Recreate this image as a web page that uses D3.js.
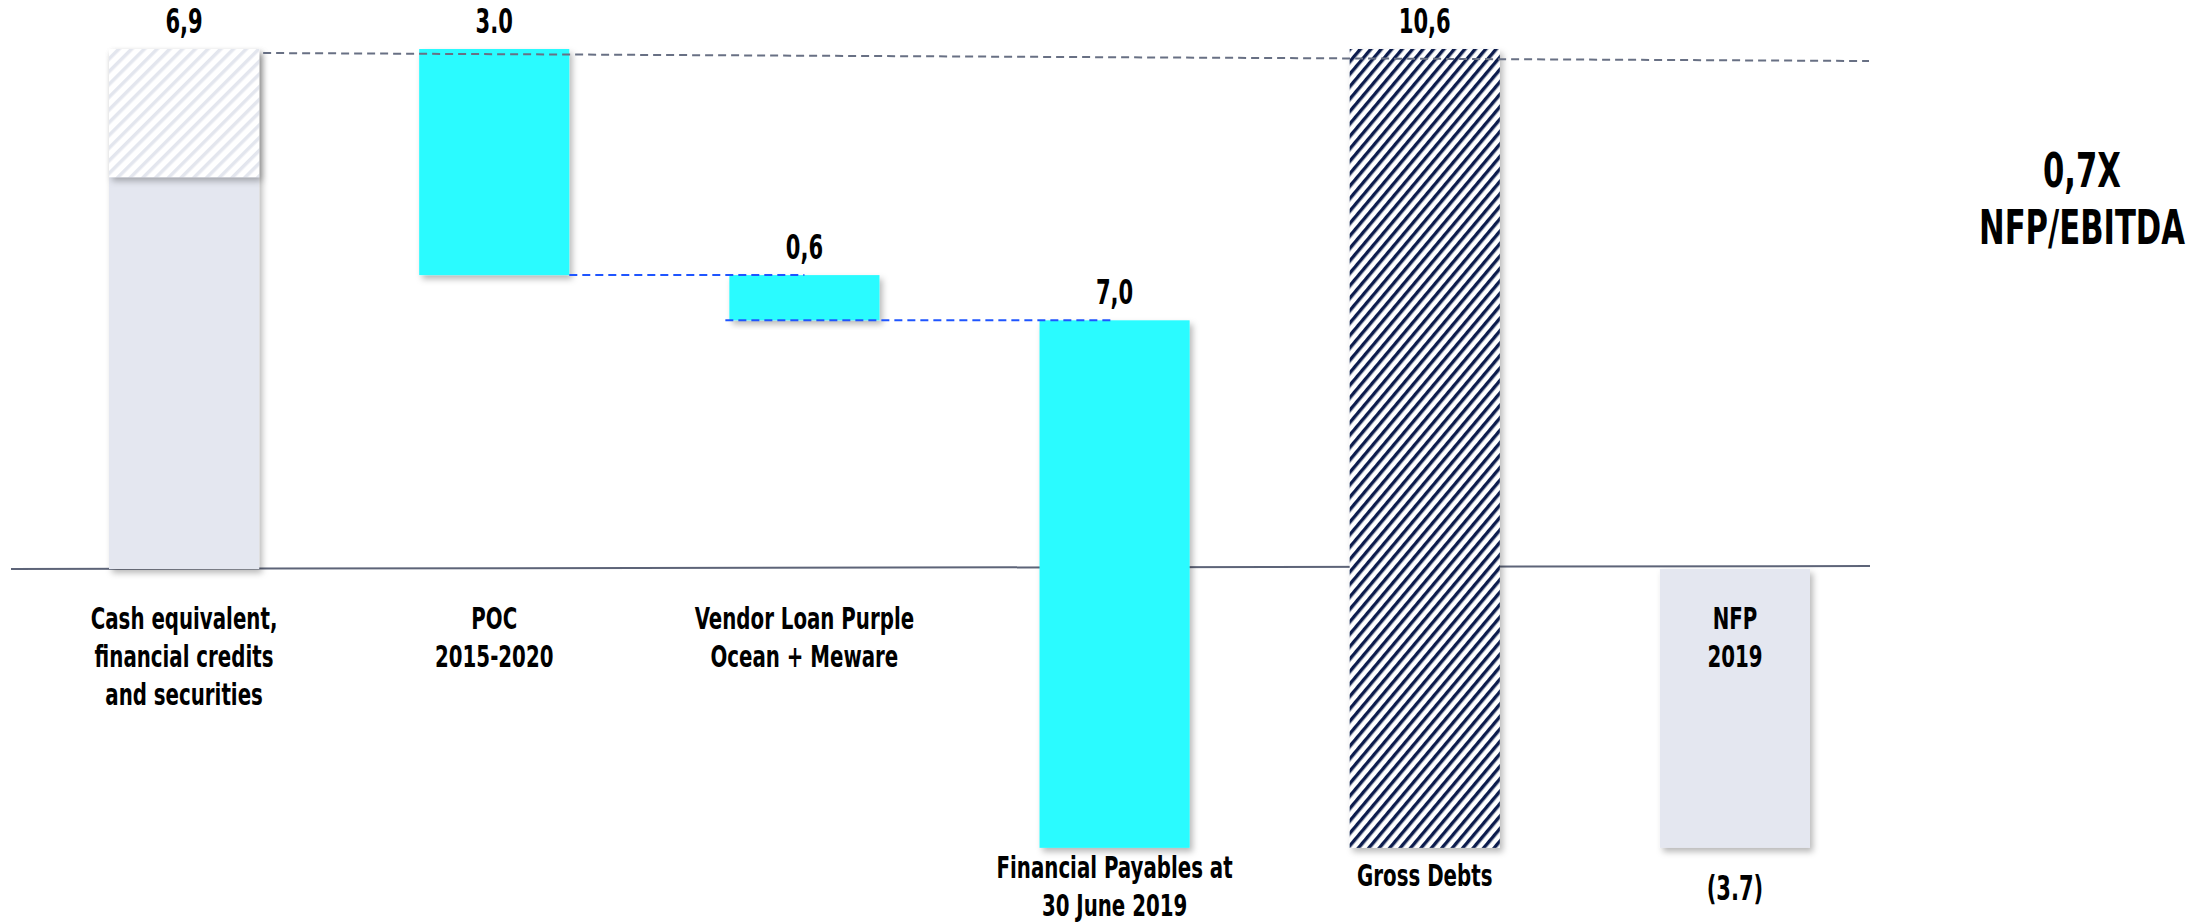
<!DOCTYPE html>
<html>
<head>
<meta charset="utf-8">
<script src="https://cdn.jsdelivr.net/npm/d3@7"></script>
<style>
  html, body { margin: 0; padding: 0; background: #fff; }
  text { font-family: "DejaVu Sans Condensed", "DejaVu Sans", sans-serif; font-weight: bold; fill: #000; }
</style>
</head>
<body>
<script>
// categories (one entry per bar, split into lines)
const categories = [
	["Cash equivalent,", "financial credits", "and securities"],
	["POC", "2015-2020"],
	["Vendor Loan Purple", "Ocean + Meware"],
	["Financial Payables at", "30 June 2019"],
	["Gross Debts"],
	["NFP", "2019"]
];
// signed values, the kind of step and the printed label
const values = [6.9, -3.0, -0.6, -7.0, 10.6, -3.7];
const kinds = ['start', 'delta', 'delta', 'delta', 'gross', 'total'];
const valueLabels = ['6,9', '3.0', '0,6', '7,0', '10,6', '(3.7)'];
// level where the hatched part of the cash bar ends
const cashHatchTo = 5.2;
const ratioValue = '0,7X';
const ratioLabel = 'NFP/EBITDA';


const width = 2208, height = 924;
const squeeze = 0.71; // narrows the condensed font towards the original face

let svg = d3.select('body').append('svg')
	.attr('width', width)
	.attr('height', height);

let defs = svg.append('defs');

defs.append('filter')
	.attr('id', 'shadow')
	.attr('x', '-10%').attr('y', '-10%')
	.attr('width', '130%').attr('height', '130%')
	.append('feDropShadow')
	.attr('dx', 3).attr('dy', 4)
	.attr('stdDeviation', 3)
	.attr('flood-color', '#000')
	.attr('flood-opacity', 0.28);

function hatch(id, size, angle, stripe, color) {
	let p = defs.append('pattern')
		.attr('id', id)
		.attr('patternUnits', 'userSpaceOnUse')
		.attr('width', size).attr('height', size)
		.attr('patternTransform', `rotate(${angle})`);
	p.append('rect').attr('width', size).attr('height', size).attr('fill', '#fff');
	p.append('rect').attr('width', stripe).attr('height', size).attr('fill', color);
}
hatch('hatchLight', 9, 45, 3.5, '#e3e6ee');
hatch('hatchNavy', 8, 40, 3.4, '#0b1d4e');

// text squeezed around its anchor
function label(parent, x, y, lines, size, dy) {
	let t = parent.append('text')
		.attr('transform', `translate(${x},${y}) scale(${squeeze},1)`)
		.attr('text-anchor', 'middle')
		.attr('font-size', size);
	lines.forEach((line, j) => {
		t.append('tspan')
			.attr('x', 0)
			.attr('dy', j === 0 ? 0 : dy)
			.text(line);
	});
	return t;
}


// build the waterfall spans
let running = 0;
const bars = values.map((v, i) => {
	let from, to;
	if (kinds[i] === 'start') { from = 0; to = v; running = v; }
	else if (kinds[i] === 'delta') { from = running; to = running + v; running = to; }
	else if (kinds[i] === 'gross') { from = values[0]; to = values[0] - v; }
	else { from = 0; to = running; }
	return { i, kind: kinds[i], from, to, top: Math.max(from, to), bottom: Math.min(from, to) };
});


//Scale
let x = d3.scaleBand()
	.domain(d3.range(categories.length))
	.range([109, 1810])
	.paddingInner(0.516)
	.paddingOuter(0);
let y = d3.scaleLinear()
	.domain([0, values[0]])
	.range([569, 49]);
const bw = x.bandwidth();


// axis line at zero
svg.append('line')
	.attr('x1', 11).attr('x2', 1870)
	.attr('y1', y(0)).attr('y2', y(0) - 3)
	.attr('stroke', '#5d6478')
	.attr('stroke-width', 2);


//Bars
let barGroup = svg.append('g').attr('class', 'bars');

bars.forEach(b => {
	let fill = '#2cfbff';
	if (b.kind === 'start' || b.kind === 'total') fill = '#e4e7f0';
	if (b.kind === 'gross') fill = 'url(#hatchNavy)';
	barGroup.append('rect')
		.attr('x', x(b.i))
		.attr('y', y(b.top))
		.attr('width', bw)
		.attr('height', y(b.bottom) - y(b.top))
		.attr('fill', fill)
		.attr('filter', 'url(#shadow)');
	if (b.kind === 'start') {
		barGroup.append('rect')
			.attr('x', x(b.i))
			.attr('y', y(b.top))
			.attr('width', bw)
			.attr('height', y(cashHatchTo) - y(b.top))
			.attr('fill', 'url(#hatchLight)')
			.attr('filter', 'url(#shadow)');
	}
});


// dashed reference line at the starting level
svg.append('line')
	.attr('x1', x(0) + bw + 4).attr('x2', 1869)
	.attr('y1', y(values[0]) + 4).attr('y2', y(values[0]) + 12)
	.attr('stroke', '#687084')
	.attr('stroke-width', 2)
	.attr('stroke-dasharray', '8,5');

// blue connectors between the steps
let steps = bars.filter(b => b.kind === 'delta');
steps.forEach((b, k) => {
	let next = bars[b.i + 1];
	if (next.kind !== 'delta') return;
	svg.append('line')
		.attr('x1', k === 0 ? x(b.i) + bw : x(b.i) - 4)
		.attr('x2', x(next.i) + bw / 2)
		.attr('y1', y(b.to)).attr('y2', y(b.to))
		.attr('stroke', '#1f55ff')
		.attr('stroke-width', 2)
		.attr('stroke-dasharray', '8,5');
});


//Value labels
let valGroup = svg.append('g');
bars.forEach(b => {
	let yy = b.kind === 'total' ? y(b.bottom) + 52 : y(b.top) - 16;
	label(valGroup, x(b.i) + bw / 2, yy, [valueLabels[b.i]], 33, 0);
});


//Category labels
let catGroup = svg.append('g');
bars.forEach(b => {
	let base = y(0) + 60;
	if (b.kind === 'delta' && y(b.bottom) > y(0) + 100) base = y(b.bottom) + 30;
	if (b.kind === 'gross') base = y(b.bottom) + 38;
	label(catGroup, x(b.i) + bw / 2, base, categories[b.i], 31, 38);
});


// ratio on the right
label(svg, 2082, 187, [ratioValue], 48, 0);
label(svg, 2082, 244, [ratioLabel], 48, 0);
</script>
</body>
</html>
